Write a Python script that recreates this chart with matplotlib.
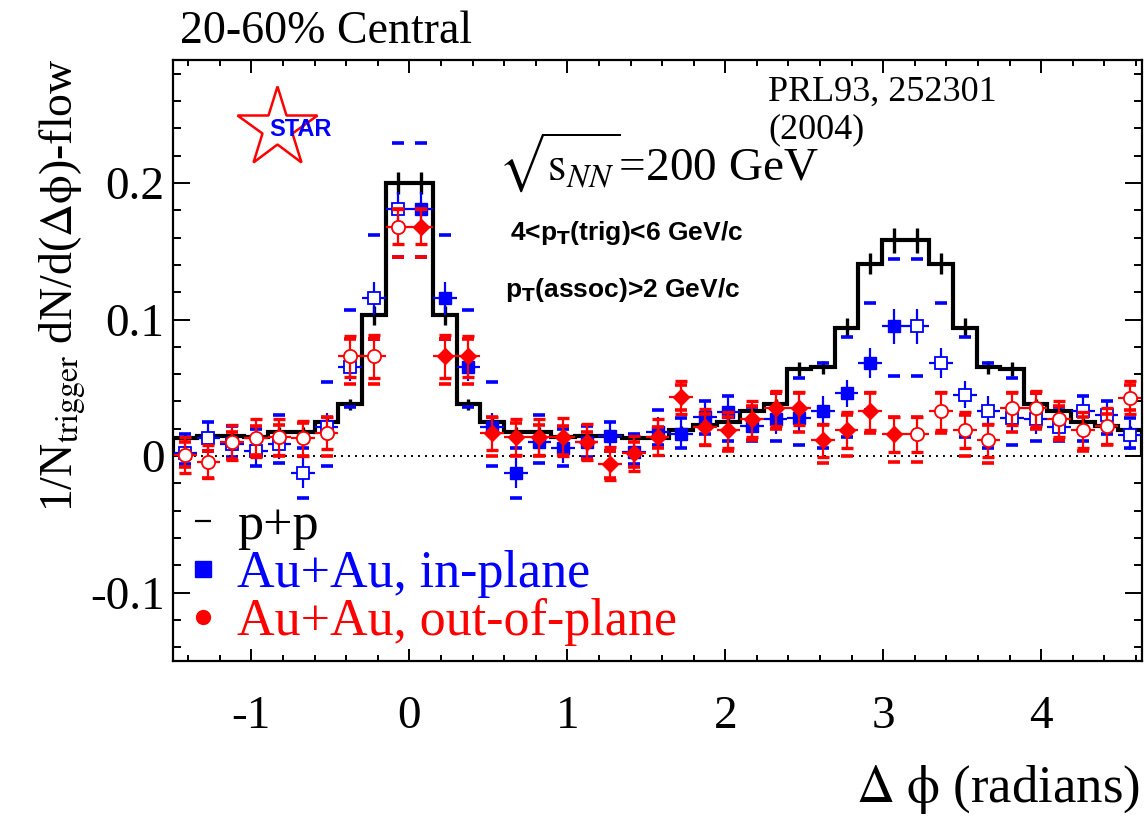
import numpy as np
import matplotlib.pyplot as plt
from matplotlib.lines import Line2D
from matplotlib.ticker import MultipleLocator

plt.rcParams['font.family'] = ['Liberation Serif', 'DejaVu Serif']
plt.rcParams['mathtext.fontset'] = 'stix'
plt.rcParams['axes.unicode_minus'] = False

# histogram binning: 41 bins of width pi/21, first bin starts at -10*pi/21
bin_width = np.pi / 21
first_bin = -10
n_bins = 41
edges = (first_bin + np.arange(n_bins + 1)) * bin_width
dphi = 0.5 * (edges[:-1] + edges[1:])

# p+p reference (black histogram)
pp = [0.013, 0.015, 0.015, 0.014, 0.018, 0.018, 0.025, 0.038, 0.103, 0.200,
      0.200, 0.103, 0.038, 0.025, 0.018, 0.018, 0.014, 0.015, 0.015, 0.013,
      0.013, 0.019, 0.023, 0.025, 0.033, 0.038, 0.064, 0.065, 0.094, 0.141,
      0.158, 0.158, 0.141, 0.094, 0.065, 0.064, 0.038, 0.033, 0.025, 0.022,
      0.019]
pp_err = [0.003, 0.003, 0.003, 0.003, 0.003, 0.003, 0.003, 0.004, 0.007, 0.008,
          0.008, 0.007, 0.004, 0.003, 0.003, 0.003, 0.003, 0.003, 0.003, 0.003,
          0.003, 0.003, 0.003, 0.003, 0.003, 0.004, 0.005, 0.005, 0.007, 0.008,
          0.009, 0.009, 0.008, 0.007, 0.005, 0.005, 0.004, 0.003, 0.003, 0.003,
          0.003]

# Au+Au in-plane
inp = [0.002, 0.013, 0.009, 0.004, 0.009, -0.0127, 0.0215, 0.065, 0.1155, 0.181,
       0.181, 0.1155, 0.065, 0.0215, -0.0127, 0.0105, 0.0056, 0.0105, 0.0145, 0.003,
       0.018, 0.016, 0.029, 0.032, 0.022, 0.027, 0.028, 0.033, 0.046, 0.068,
       0.095, 0.095, 0.068, 0.045, 0.033, 0.028, 0.027, 0.0215, 0.033, 0.030,
       0.0155]
inp_err = [0.011, 0.011, 0.011, 0.011, 0.011, 0.011, 0.010, 0.010, 0.012, 0.012,
           0.012, 0.012, 0.010, 0.010, 0.011, 0.011, 0.011, 0.011, 0.011, 0.011,
           0.011, 0.011, 0.011, 0.011, 0.011, 0.011, 0.011, 0.011, 0.010, 0.011,
           0.013, 0.013, 0.011, 0.010, 0.011, 0.011, 0.011, 0.011, 0.011, 0.011,
           0.011]
inp_sys_hi = [0.016, 0.025, 0.022, 0.020, 0.030, 0.006, 0.054, 0.107, 0.162, 0.229,
              0.229, 0.162, 0.107, 0.054, 0.006, 0.030, 0.020, 0.022, 0.025, 0.016,
              0.034, 0.028, 0.040, 0.044, 0.036, 0.046, 0.057, 0.068, 0.087, 0.112,
              0.144, 0.144, 0.112, 0.087, 0.068, 0.057, 0.046, 0.036, 0.044, 0.040,
              0.028]
inp_sys_lo = [-0.006, 0.004, -0.001, -0.007, -0.005, -0.031, -0.007, 0.036, 0.086, 0.146,
              0.146, 0.086, 0.036, -0.007, -0.031, -0.005, -0.007, -0.001, 0.004, -0.006,
              0.008, 0.006, 0.016, 0.011, 0.011, 0.011, 0.008, 0.006, 0.014, 0.034,
              0.059, 0.059, 0.034, 0.014, 0.006, 0.008, 0.011, 0.011, 0.011, 0.016,
              0.006]

# Au+Au out-of-plane
outp = [0.001, -0.004, 0.010, 0.013, 0.014, 0.013, 0.017, 0.073, 0.073, 0.168,
        0.168, 0.073, 0.073, 0.0166, 0.014, 0.014, 0.014, 0.0105, -0.0055, 0.002,
        0.014, 0.043, 0.0215, 0.019, 0.027, 0.035, 0.035, 0.0115, 0.019, 0.033,
        0.016, 0.016, 0.033, 0.019, 0.0117, 0.035, 0.035, 0.027, 0.019, 0.022,
        0.0427]
outp_err = [0.013, 0.012, 0.013, 0.014, 0.013, 0.013, 0.012, 0.015, 0.016, 0.013,
            0.013, 0.016, 0.015, 0.012, 0.013, 0.013, 0.014, 0.013, 0.012, 0.013,
            0.013, 0.012, 0.013, 0.013, 0.013, 0.013, 0.012, 0.012, 0.013, 0.014,
            0.013, 0.013, 0.014, 0.013, 0.012, 0.012, 0.013, 0.013, 0.013, 0.013,
            0.012]
outp_sys_hi = [0.010, 0.004, 0.018, 0.022, 0.023, 0.024, 0.029, 0.086, 0.086, 0.181,
               0.181, 0.086, 0.086, 0.029, 0.024, 0.023, 0.022, 0.018, 0.004, 0.010,
               0.021, 0.052, 0.031, 0.029, 0.037, 0.046, 0.046, 0.023, 0.030, 0.046,
               0.029, 0.029, 0.046, 0.030, 0.023, 0.046, 0.046, 0.037, 0.029, 0.031,
               0.052]
outp_sys_lo = [-0.008, -0.016, -0.002, 0.001, 0.000, 0.000, 0.000, 0.053, 0.053, 0.146,
               0.146, 0.053, 0.053, 0.000, 0.000, 0.000, 0.001, -0.002, -0.016, -0.008,
               0.006, 0.034, 0.008, 0.004, 0.012, 0.020, 0.018, -0.005, 0.000, 0.017,
               -0.004, -0.004, 0.017, 0.000, -0.005, 0.018, 0.020, 0.012, 0.004, 0.008,
               0.034]

W, H = 1145, 817
fig = plt.figure(figsize=(W / 100, H / 100), dpi=100)
ax = fig.add_axes([173 / W, 156 / H, 969 / W, 601 / H])

# measured points are 0..pi, the rest are reflections (open symbols)
measured = (dphi > 0) & (dphi < np.pi)
mirror = ~measured

ax.axhline(0, color='black', lw=1.4, ls=(0, (1, 2.6)))

ax.stairs(pp, edges, color='black', lw=3.0)
ax.errorbar(dphi, pp, yerr=pp_err, fmt='none', ecolor='black', elinewidth=2.4, capsize=0)

blue = '#0000ff'
red = '#ff0000'

inp_a = np.array(inp)
outp_a = np.array(outp)

# in-plane
ax.errorbar(dphi, inp, xerr=bin_width / 2, fmt='none', ecolor=blue, elinewidth=1.6)
ax.errorbar(dphi, inp, yerr=inp_err, fmt='none', ecolor=blue, elinewidth=1.6, capsize=0)
ax.plot(dphi, inp_sys_hi, ls='none', marker='_', ms=9, mew=2.6, color=blue)
ax.plot(dphi, inp_sys_lo, ls='none', marker='_', ms=9, mew=2.6, color=blue)
ax.plot(dphi[measured], inp_a[measured], ls='none', marker='s', ms=8.5, color=blue, mec=blue)
ax.plot(dphi[mirror], inp_a[mirror], ls='none', marker='s', ms=8.5, mfc='white', mec=blue, mew=1.3)

# out-of-plane
ax.errorbar(dphi, outp, xerr=bin_width / 2, fmt='none', ecolor=red, elinewidth=1.6)
ax.errorbar(dphi, outp, yerr=outp_err, fmt='none', ecolor=red, elinewidth=1.6,
            capsize=4.5, capthick=2.4)
ax.plot(dphi, outp_sys_hi, ls='none', marker='_', ms=9, mew=2.6, color=red)
ax.plot(dphi, outp_sys_lo, ls='none', marker='_', ms=9, mew=2.6, color=red)
ax.plot(dphi[measured], outp_a[measured], ls='none', marker='D', ms=8.5, color=red, mec=red)
ax.plot(dphi[mirror], outp_a[mirror], ls='none', marker='o', ms=9.5, mfc='white', mec=red, mew=1.3)

ax.set_xlim(edges[0], edges[-1])
ax.set_ylim(-0.15, 0.29)
ax.set_xticks([-1, 0, 1, 2, 3, 4])
ax.set_xticklabels(['-1', '0', '1', '2', '3', '4'])
ax.set_yticks([-0.1, 0, 0.1, 0.2])
ax.set_yticklabels(['-0.1', '0', '0.1', '0.2'])
ax.xaxis.set_minor_locator(MultipleLocator(0.2))
ax.yaxis.set_minor_locator(MultipleLocator(0.02))
ax.tick_params(which='both', direction='in', top=True, right=True, width=1.4, labelsize=34)
ax.tick_params(axis='x', which='major', length=9, pad=25)
ax.tick_params(axis='x', which='minor', length=4.5)
ax.tick_params(axis='y', which='major', length=12, pad=6)
ax.tick_params(axis='y', which='minor', length=6)
for s in ax.spines.values():
    s.set_linewidth(1.6)

# legend
handles = [Line2D([], [], ls='none', marker='_', ms=11, mew=1.6, color='black'),
           Line2D([], [], ls='none', marker='s', ms=11, color=blue),
           Line2D([], [], ls='none', marker='o', ms=10, color=red)]
labels = ['p+p', 'Au+Au, in-plane', 'Au+Au, out-of-plane']
ax.legend(handles, labels, loc='lower left', bbox_to_anchor=(0.018, 0.025),
          frameon=False, prop={'family': 'Liberation Serif', 'size': 37.5},
          labelcolor=['black', blue, red], handlelength=0.5, handletextpad=0.4,
          labelspacing=0.0, borderaxespad=0, borderpad=0)

# STAR logo
ax.plot([0.1073], [0.887], marker='*', ms=60, mfc='none', mec=red, mew=1.8,
        transform=ax.transAxes, clip_on=False)
ax.text(0.132, 0.885, 'STAR', transform=ax.transAxes, color=blue, fontsize=17,
        family='Liberation Sans', weight='bold', ha='center', va='center')

# annotations
fig.text(180 / W, 1 - 32 / H, '20-60% Central', fontsize=33, va='center')
fig.text(768 / W, 1 - 92 / H, 'PRL93, 252301', fontsize=26, va='center')
fig.text(768 / W, 1 - 130 / H, '(2004)', fontsize=26, va='center')
fig.text(498 / W, 1 - 163 / H, r'$\sqrt{\mathrm{s}_{NN}}$=200 GeV', fontsize=34, va='center')
fig.text(510 / W, 1 - 233 / H, r'4<p$_\mathbf{T}$(trig)<6 GeV/c', family='Liberation Sans',
         weight='bold', fontsize=19, math_fontfamily='dejavusans', va='center')
fig.text(505 / W, 1 - 290 / H, r'p$_\mathbf{T}$(assoc)>2 GeV/c', family='Liberation Sans',
         weight='bold', fontsize=19, math_fontfamily='dejavusans', va='center')

fig.text(62 / W, 1 - 285 / H, r'1/N$_{\mathrm{trigger}}$ dN/d($\Delta\mathrm{\phi}$)-flow',
         rotation=90, fontsize=33, ha='center', va='center')
fig.text(1140 / W, 1 - 790 / H, r'$\Delta\ \mathrm{\phi}$ (radians)', fontsize=38,
         ha='right', va='center')

fig.savefig('out.png', dpi=100)
